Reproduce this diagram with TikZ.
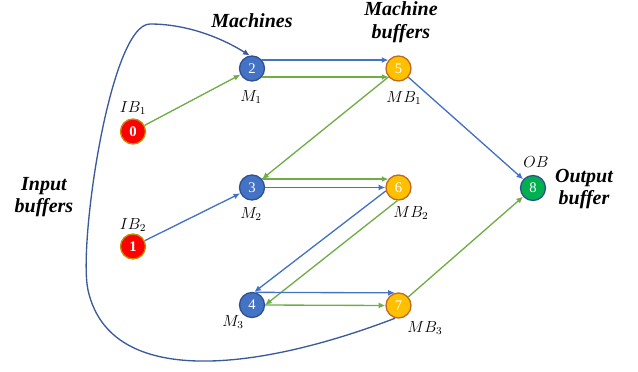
\documentclass[tikz,border=0pt]{standalone}
\usepackage{fontspec}
\setmainfont{Liberation Serif}
\usetikzlibrary{arrows.meta}
\definecolor{nblue}{HTML}{4472C4}
\definecolor{nblueb}{HTML}{2F528F}
\definecolor{nred}{HTML}{FF0000}
\definecolor{nredb}{HTML}{C09000}
\definecolor{nyel}{HTML}{FFC000}
\definecolor{nyelb}{HTML}{BF6A20}
\definecolor{ngreen}{HTML}{00B050}
\definecolor{eblue}{HTML}{4472C4}
\definecolor{egreen}{HTML}{70AD47}
\definecolor{ecurve}{HTML}{3A5A9C}
\tikzset{
  st/.style={circle, minimum size=18.75pt, inner sep=0pt, line width=1pt, text=white, font=\fontsize{11}{12}\selectfont},
  mnode/.style={st, fill=nblue, draw=nblueb},
  ibnode/.style={st, fill=nred, draw=nredb, font=\fontsize{11}{12}\selectfont\bfseries},
  mbnode/.style={st, fill=nyel, draw=nyelb},
  obnode/.style={st, fill=ngreen, draw=nblueb},
  lab/.style={font=\fontsize{11.5}{13}\selectfont, inner sep=0pt},
  ttl/.style={font=\fontsize{15}{17}\selectfont\bfseries\itshape, align=center, inner sep=0pt},
  be/.style={draw=eblue, line width=1pt, -{Latex[length=5pt,width=4.5pt]}},
  ge/.style={draw=egreen, line width=1pt, -{Latex[length=5pt,width=4.5pt]}},
  ce/.style={draw=ecurve, line width=1pt, -{Latex[length=5pt,width=4.5pt]}}
}
\begin{document}
\begin{tikzpicture}[x=0.75pt,y=-0.75pt]
\useasboundingbox (0,0) rectangle (638,371);
% nodes
\node[ibnode] (n0) at (133,131.5) {0};
\node[ibnode] (n1) at (133,246.5) {1};
\node[mnode] (n2) at (252,68.5) {2};
\node[mnode] (n3) at (252,187.5) {3};
\node[mnode] (n4) at (252,305) {4};
\node[mbnode] (n5) at (398.5,68.5) {5};
\node[mbnode] (n6) at (398.5,187.5) {6};
\node[mbnode] (n7) at (398.5,305.5) {7};
\node[obnode] (n8) at (533,188) {8};
% labels
\node[lab] (l0) at (133,108) {$IB_1$};
\node[lab] (l1) at (133,225) {$IB_2$};
\node[lab] (l2) at (251,97) {$M_1$};
\node[lab] (l3) at (251,214) {$M_2$};
\node[lab] (l4) at (233,322) {$M_3$};
\node[lab] (l5) at (404,98) {$MB_1$};
\node[lab] (l6) at (411,213) {$MB_2$};
\node[lab] (l7) at (425,328) {$MB_3$};
\node[lab] (l8) at (536,162) {$OB$};
% titles
\node[ttl] (t1) at (252,21) {Machines};
\node[ttl] (t2) at (401,22) {Machine\\buffers};
\node[ttl] (t3) at (44,197) {Input\\buffers};
\node[ttl] (t4) at (584,189) {Output\\buffer};
% edges
\draw[ge] (n0) -- (n2);
\draw[be] (n1) -- (n3);
\draw[be] (n2.40) -- (n5.140);
\draw[ge] (n2.-40) -- (n5.-140);
\draw[ge] (n5.-140) -- (n3.40);
\draw[ge] (n3.40) -- (n6.140);
\draw[be] (n3.east) -- (n6.west);
\draw[be] (n6.195) -- (n4.80);
\draw[ge] (n6.-95) -- (n4.east);
\draw[be] (n4.74) -- (n7.106);
\draw[ge] (n4.east) -- (n7.west);
\draw[be] (n5) -- (n8);
\draw[ge] (n7) -- (n8);
\draw[ce] (n7.-105) .. controls (260,370) and (110,390) .. (88,290)
  .. controls (78,245) and (110,24) .. (150,24)
  .. controls (190,24) and (225,40) .. (n2.100);
\end{tikzpicture}
\end{document}
